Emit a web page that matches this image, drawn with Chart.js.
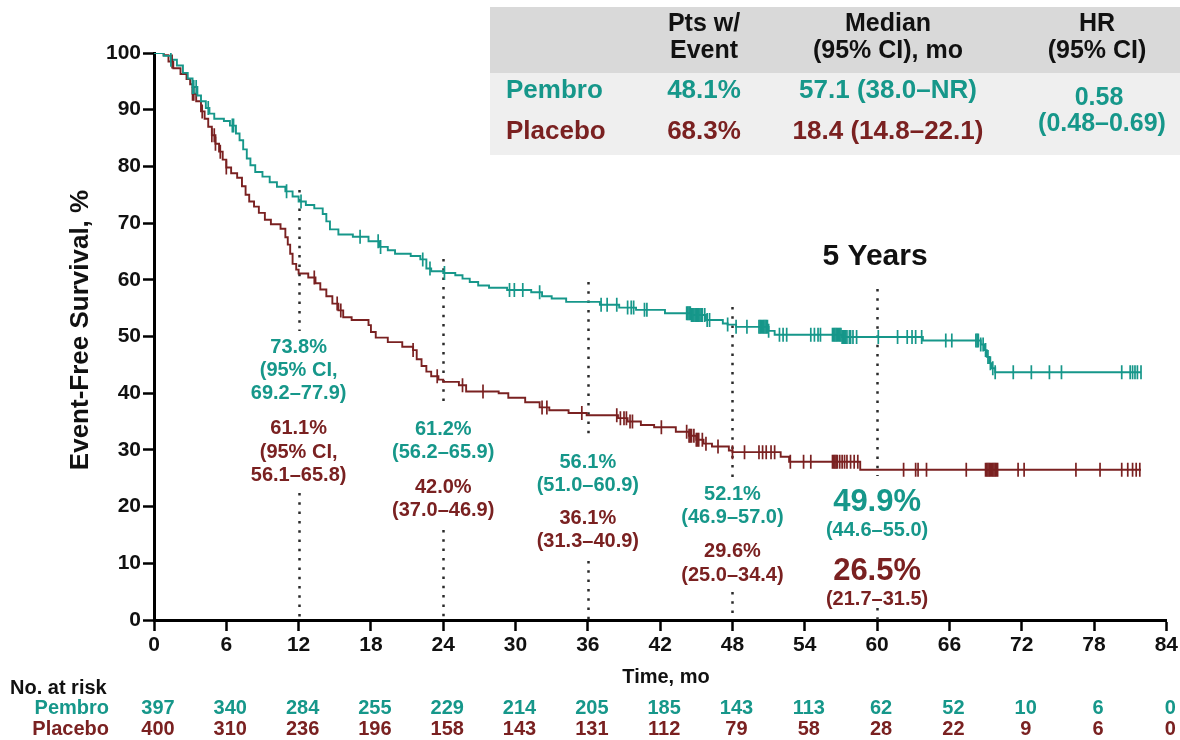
<!DOCTYPE html>
<html>
<head>
<meta charset="utf-8">
<script src="https://cdn.jsdelivr.net/npm/chart.js@4.4.1/dist/chart.umd.min.js"></script>
<style>
  html, body { margin: 0; padding: 0; background: #ffffff; }
  #wrap { width: 1180px; height: 740px; position: relative; }
</style>
</head>
<body>
<div id="wrap"><canvas id="efs" width="1180" height="740"></canvas></div>
<script>
// ---- Kaplan-Meier step data (time in months, event-free survival in %) ----
const pembroTimes = [0,0.8,1.4,1.9,2.4,2.8,3.2,3.6,3.9,4.3,4.6,5.0,5.8,6.3,6.8,7.1,7.4,7.7,8.0,8.4,9.0,9.6,10.2,10.9,11.5,12.0,12.6,13.3,14.0,14.3,14.6,15.3,16.5,17.8,18.7,19.4,20.0,21.3,22.1,22.6,23.0,24.0,25.0,25.6,26.2,26.9,27.8,29.3,31.3,32.2,33.0,34.2,37.0,38.6,40.0,42.4,44.6,45.8,47.2,47.6,48.3,51.0,51.5,57.1,63.8,68.6,68.9,69.1,69.3,69.5,69.8,81.9];
const pembroSurv  = [100,99.5,98.8,97.8,96.5,95.5,94.0,92.5,91.5,90.3,89.3,88.4,88.0,87.2,85.8,84.6,83.0,81.4,80.2,79.0,78.2,77.2,76.4,75.6,74.7,73.8,73.2,72.6,71.6,70.3,68.9,68.0,67.6,66.8,65.8,65.2,64.6,64.2,63.6,62.0,61.5,61.2,60.8,60.2,59.6,59.0,58.6,58.2,57.8,57.1,56.7,56.1,55.6,55.1,54.7,54.1,53.8,52.9,52.3,52.1,51.7,51.0,50.3,49.9,49.3,48.6,47.6,46.4,45.3,44.4,43.7,43.7];

const placeboTimes = [0,0.8,1.2,1.6,2.2,2.7,3.0,3.2,3.5,3.9,4.2,4.5,4.8,5.1,5.4,5.7,6.0,6.4,6.9,7.3,7.6,7.9,8.3,8.7,9.2,9.7,10.5,10.9,11.1,11.3,11.5,11.8,12.0,12.8,13.4,13.8,14.3,14.8,15.3,15.7,16.4,17.8,18.0,18.4,19.4,20.6,21.5,21.8,22.2,22.6,23.0,23.6,24.0,25.3,25.9,28.6,29.4,30.8,32.0,32.8,34.4,35.9,38.5,39.3,40.4,41.5,43.3,44.4,45.0,45.6,46.3,47.7,48.0,52.0,52.7,58.6,81.9];
const placeboSurv  = [100,99.6,98.5,97.3,96.3,95.4,94.5,92.8,91.5,89.7,88.4,87.0,85.5,84.0,82.6,81.2,79.8,78.8,78.0,76.5,75.0,73.8,72.9,71.8,70.6,69.8,69.0,67.5,66.2,64.6,62.8,61.8,61.1,60.4,59.4,58.3,57.1,55.8,54.6,53.4,52.9,52.0,50.8,49.8,49.0,48.2,47.6,46.0,44.8,43.8,43.0,42.4,42.0,41.4,40.3,40.0,39.2,38.4,37.5,37.0,36.5,36.1,35.6,35.0,34.4,34.0,33.2,32.5,31.8,31.1,30.6,29.9,29.6,28.8,27.9,26.5,26.5];

// Censoring times (months)
const pembroCensor = [1.4,3.2,3.3,3.5,4.5,6.5,6.6,11.0,12.2,17.1,18.6,18.8,22.3,22.9,24.1,29.5,29.9,30.6,32.0,37.1,37.6,38.4,39.3,39.6,39.8,40.7,40.9,44.2,44.3,44.4,44.5,44.6,44.7,44.8,44.9,45.0,45.1,45.2,45.3,45.4,45.5,45.7,45.9,46.1,47.6,48.3,49.2,50.2,50.3,50.4,50.5,50.6,50.7,50.8,50.9,51.0,51.9,52.2,52.5,54.5,54.8,55.1,55.3,56.3,56.4,56.5,56.6,56.7,56.8,56.9,57.0,57.1,57.2,57.3,57.4,57.5,57.7,57.8,58.0,58.3,60.1,61.7,62.5,62.9,63.2,63.7,65.7,66.2,68.2,68.3,68.4,68.6,68.8,69.0,69.2,69.4,69.6,69.8,71.3,72.8,74.3,75.3,80.3,81.0,81.2,81.4,81.6,81.9];
const placeboCensor = [1.5,3.2,3.3,4.0,4.8,5.0,5.1,5.5,6.0,13.3,15.2,15.5,21.5,23.5,25.6,27.3,32.2,32.6,35.5,38.4,38.7,39.0,39.2,39.5,39.7,42.1,44.2,44.4,44.5,44.6,44.8,45.0,45.1,45.2,45.5,45.8,46.8,48.0,49.0,50.2,50.5,50.8,51.2,51.5,52.8,53.9,54.5,56.3,56.4,56.5,56.6,56.7,56.9,57.1,57.3,57.5,57.8,58.1,58.4,62.2,63.2,63.4,64.1,67.4,69.0,69.1,69.2,69.3,69.4,69.5,69.6,69.7,69.8,69.9,70.0,71.7,72.2,76.5,78.5,80.3,80.8,81.2,81.5,81.8];

// Axis ticks and number at risk
const timeTicks = [0,6,12,18,24,30,36,42,48,54,60,66,72,78,84];
const pembroAtRisk  = [397,340,284,255,229,214,205,185,143,113,62,52,10,6,0];
const placeboAtRisk = [400,310,236,196,158,143,131,112,79,58,28,22,9,6,0];

// Landmark estimates
const landmarkMonths = [12,24,36,48,60];
const pembroLandmarkText = [
  ['73.8%','(95% CI,','69.2\u201377.9)'],
  ['61.2%','(56.2\u201365.9)'],
  ['56.1%','(51.0\u201360.9)'],
  ['52.1%','(46.9\u201357.0)'],
  ['49.9%','(44.6\u201355.0)']
];
const placeboLandmarkText = [
  ['61.1%','(95% CI,','56.1\u201365.8)'],
  ['42.0%','(37.0\u201346.9)'],
  ['36.1%','(31.3\u201340.9)'],
  ['29.6%','(25.0\u201334.4)'],
  ['26.5%','(21.7\u201331.5)']
];

// Summary table
const tableHeaders = [['Pts w/','Event'],['Median','(95% CI), mo'],['HR','(95% CI)']];
const armNames = ['Pembro','Placebo'];
const eventPct = ['48.1%','68.3%'];
const medianText = ['57.1 (38.0\u2013NR)','18.4 (14.8\u201322.1)'];
const hrText = ['0.58','(0.48\u20130.69)'];

// ---- styling ----
const TEAL = '#16978a';
const MAROON = '#7a2121';
const FAMILY = '"Liberation Sans", Arial, Helvetica, sans-serif';
const f = (size, weight = 'bold') => `${weight} ${size}px ${FAMILY}`;

const toPoints = (ts, ss) => ts.map((t, i) => ({ x: t, y: ss[i] }));
function survivalAt(ts, ss, t) {
  let s = ss[0];
  for (let i = 0; i < ts.length; i++) { if (ts[i] <= t + 1e-9) s = ss[i]; else break; }
  return s;
}
const censorPoints = (cs, ts, ss) => cs.map(t => ({ x: t, y: survivalAt(ts, ss, t) }));

// Dotted landmark guides: [top px, gap start px, gap end px]
const guideSpans = [[190,331,493],[259,407,530],[282,436,561],[307,482,592],[289,476,608]];
// Text block vertical centres
const pembroTextY  = [[347,370,393],[429,452],[462,485],[494,517],[502,530]];
const placeboTextY = [[428,452,475],[487,510],[518,541],[551,575],[571,599]];

const overlay = {
  id: 'overlay',
  beforeDatasetsDraw(chart) {
    const { ctx, chartArea } = chart;
    const xs = chart.scales.x;
    ctx.save();
    ctx.strokeStyle = '#2a2a2a';
    ctx.lineWidth = 2.5;
    ctx.setLineDash([2.5, 6.8]);
    landmarkMonths.forEach((m, i) => {
      const x = Math.round(xs.getPixelForValue(m)) + 0.5;
      const [top, g1, g2] = guideSpans[i];
      ctx.beginPath();
      ctx.moveTo(x, top); ctx.lineTo(x, g1);
      ctx.moveTo(x, g2); ctx.lineTo(x, chartArea.bottom);
      ctx.stroke();
    });
    ctx.restore();
  },
  afterDraw(chart) {
    const { ctx } = chart;
    const xs = chart.scales.x;
    ctx.save();
    ctx.textAlign = 'center';
    ctx.textBaseline = 'middle';

    // landmark labels
    landmarkMonths.forEach((m, i) => {
      const x = xs.getPixelForValue(m);
      const last = i === landmarkMonths.length - 1;
      ctx.fillStyle = TEAL;
      pembroLandmarkText[i].forEach((s, j) => {
        ctx.font = (last && j === 0) ? f(31) : f(20);
        ctx.fillText(s, x, pembroTextY[i][j]);
      });
      ctx.fillStyle = MAROON;
      placeboLandmarkText[i].forEach((s, j) => {
        ctx.font = (last && j === 0) ? f(31) : f(20);
        ctx.fillText(s, x, placeboTextY[i][j]);
      });
    });

    // 5-year heading
    ctx.fillStyle = '#111';
    ctx.font = f(30);
    ctx.fillText('5 Years', xs.getPixelForValue(60) - 2, 257);

    // axis titles
    ctx.font = f(20);
    ctx.fillText('Time, mo', 666, 677);
    ctx.save();
    ctx.translate(81, 330);
    ctx.rotate(-Math.PI / 2);
    ctx.font = f(26);
    ctx.fillText('Event-Free Survival, %', 0, 0);
    ctx.restore();

    // number at risk
    ctx.textAlign = 'left';
    ctx.fillStyle = '#111';
    ctx.font = f(20);
    ctx.fillText('No. at risk', 10, 688);
    ctx.textAlign = 'right';
    ctx.fillStyle = TEAL; ctx.fillText(armNames[0], 109, 708);
    ctx.fillStyle = MAROON; ctx.fillText(armNames[1], 109, 729);
    ctx.textAlign = 'center';
    timeTicks.forEach((t, i) => {
      const x = xs.getPixelForValue(t);
      ctx.fillStyle = TEAL; ctx.fillText(String(pembroAtRisk[i]), x + 4, 708);
      ctx.fillStyle = MAROON; ctx.fillText(String(placeboAtRisk[i]), x + 4, 729);
    });

    // summary table
    ctx.fillStyle = '#d9d9d9';
    ctx.fillRect(490, 7, 690, 66);
    ctx.fillStyle = '#efefef';
    ctx.fillRect(490, 73, 690, 82);
    const colX = [704, 888, 1097];
    ctx.fillStyle = '#111';
    ctx.font = f(25);
    tableHeaders.forEach((lines, c) => {
      lines.forEach((s, j) => ctx.fillText(s, colX[c], 24 + j * 27));
    });
    const rowY = [91, 132];
    const rowColor = [TEAL, MAROON];
    ctx.font = f(26);
    rowY.forEach((y, r) => {
      ctx.fillStyle = rowColor[r];
      ctx.textAlign = 'left';
      ctx.fillText(armNames[r], 506, y);
      ctx.textAlign = 'center';
      ctx.fillText(eventPct[r], colX[0], y);
      ctx.fillText(medianText[r], colX[1], y);
    });
    ctx.fillStyle = TEAL;
    ctx.font = f(25);
    ctx.fillText(hrText[0], colX[2] + 2, 98);
    ctx.fillText(hrText[1], colX[2] + 5, 124);

    ctx.restore();
  }
};

const axisCommon = {
  border: { display: true, color: '#000', width: 3 },
  grid: { display: true, drawOnChartArea: false, drawTicks: true, tickLength: 11, tickWidth: 2.5, tickColor: '#000' }
};

new Chart(document.getElementById('efs'), {
  type: 'scatter',
  data: {
    datasets: [
      { label: 'Pembro', data: toPoints(pembroTimes, pembroSurv), showLine: true, stepped: true,
        borderColor: TEAL, borderWidth: 1.9, pointRadius: 0, fill: false, order: 2 },
      { label: 'Placebo', data: toPoints(placeboTimes, placeboSurv), showLine: true, stepped: true,
        borderColor: MAROON, borderWidth: 1.9, pointRadius: 0, fill: false, order: 2 },
      { label: 'Pembro censored', data: censorPoints(pembroCensor, pembroTimes, pembroSurv), showLine: false,
        pointStyle: 'line', rotation: 90, pointRadius: 7, borderColor: TEAL, borderWidth: 1.7, order: 1 },
      { label: 'Placebo censored', data: censorPoints(placeboCensor, placeboTimes, placeboSurv), showLine: false,
        pointStyle: 'line', rotation: 90, pointRadius: 7, borderColor: MAROON, borderWidth: 1.7, order: 1 }
    ]
  },
  options: {
    responsive: false,
    animation: false,
    devicePixelRatio: 1,
    layout: { padding: { left: 0, top: 53, right: 12, bottom: 0 } },
    plugins: { legend: { display: false }, tooltip: { enabled: false } },
    scales: {
      x: {
        type: 'linear', min: 0, max: 84,
        ...axisCommon,
        afterBuildTicks: s => { s.ticks = timeTicks.map(v => ({ value: v })); },
        afterFit: s => { s.height = 120; },
        ticks: { color: '#111', font: { family: FAMILY, size: 21, weight: 'bold' }, padding: 2, maxRotation: 0 }
      },
      y: {
        type: 'linear', min: 0, max: 100,
        ...axisCommon,
        afterFit: s => { s.width = 154; },
        ticks: { stepSize: 10, color: '#111', font: { family: FAMILY, size: 21, weight: 'bold' }, padding: 2 }
      }
    }
  },
  plugins: [overlay]
});
</script>
</body>
</html>
